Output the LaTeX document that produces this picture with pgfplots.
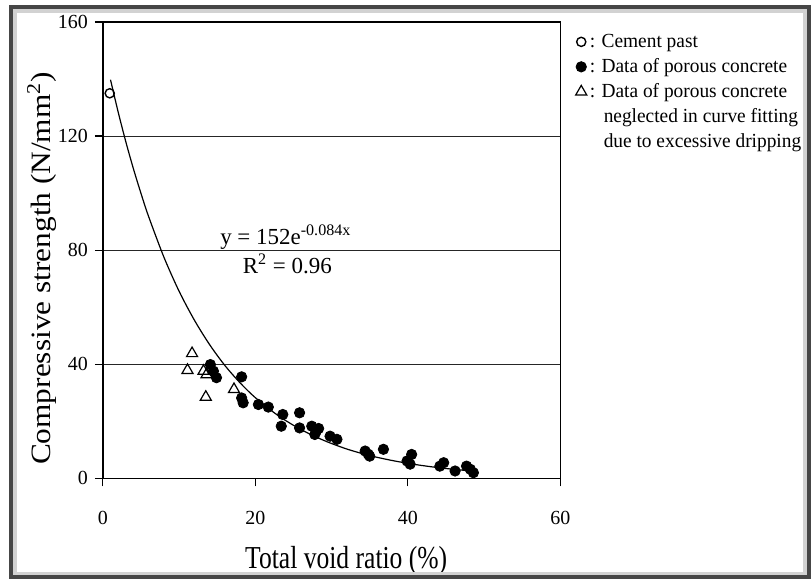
\documentclass[border=0pt]{standalone}
\usepackage{pgfplots}
\pgfplotsset{compat=1.18}
\usepackage{fontspec}
\setmainfont{Liberation Serif}
\newfontfamily\xlabfont[FakeStretch=0.8]{Liberation Serif}
\newfontfamily\ylabfont[FakeStretch=1.12]{Liberation Serif}
\newfontfamily\legfont[FakeStretch=0.97]{Liberation Serif}
\begin{document}
\begin{tikzpicture}
\begin{axis}[
  scale only axis, width=229pt, height=228.5pt,
  xmin=0, xmax=60, ymin=0, ymax=160,
  xtick={0,20,40,60}, ytick={0,40,80,120,160},
  ymajorgrids, grid style={black!85, line width=0.5pt},
  axis line style={line width=0.8pt},
  tick pos=left, tick align=outside, major tick length=4pt,
  tick style={black, line width=0.6pt},
  /pgf/number format/assume math mode=true,
  ticklabel style={font=\fontsize{10}{12}\selectfont},
  xticklabel style={yshift=-9pt},
  xlabel={\xlabfont\fontsize{16}{18}\selectfont Total void ratio (\%)},
  ylabel={\ylabfont\fontsize{14}{16}\selectfont Compressive strength (N/mm\textsuperscript{2})},
  xlabel style={at={(axis description cs:0.532,-0.1816)}, anchor=center},
  ylabel style={at={(axis description cs:-0.1332,0.46)}, anchor=center},
  legend style={at={(1.0197,0.989)}, anchor=north west, draw=none, fill=none,
    font=\legfont\fontsize{10}{12}\selectfont, row sep=2pt,
    nodes={inner sep=0pt, text height=8pt, text depth=2.5pt},
    /tikz/every odd column/.append style={column sep=1.5pt}},
  legend cell align=left,
  legend image code/.code={\draw[#1] plot coordinates {(0pt,0pt)};},
]
\addplot[black, line width=0.6pt, smooth, forget plot] coordinates {
(1,139.76) (2,128.5) (3,118.1) (4,108.6) (5,99.9) (6,91.8) (8,77.6) (10,65.6)
(12,55.5) (14,46.9) (16,39.6) (18,33.5) (20,28.3) (23,22.0) (26,17.1) (29,13.3)
(32,10.3) (35,8.0) (38,6.25) (41,4.86) (44,3.77) (47,2.93) (49,2.48)};
\addplot[only marks, mark=o, mark size=2.3pt, black, mark options={line width=0.7pt}] coordinates {(0.9,135)};
\addlegendentry{: Cement past}
\addplot[only marks, mark=*, mark size=2.6pt, black] coordinates {
(14.1,39.9) (14.5,37.6) (14.9,35.3) (18.2,35.6) (18.2,28.2) (18.4,26.5)
(20.4,25.9) (21.7,25.0) (23.6,22.4) (23.4,18.3) (25.8,23.0) (25.8,17.7)
(27.4,18.3) (28.0,16.6) (27.8,15.4) (28.3,17.5) (29.8,14.8) (30.7,13.7)
(34.4,9.6) (35.0,7.8) (34.8,8.5) (36.8,10.2) (39.9,6.1) (40.5,8.4) (40.3,5.0)
(44.2,4.3) (44.7,5.5) (46.2,2.6) (47.7,4.3) (48.2,3.2) (48.6,2.0)};
\addlegendentry{: Data of porous concrete}
\addplot[only marks, mark=triangle, mark size=3.2pt, black, mark options={line width=0.6pt}] coordinates {
(11.7,43.8) (11.1,37.9) (13.2,37.6) (13.6,36.4) (13.5,28.5) (17.2,31.2)};
\addlegendentry{: Data of porous concrete}
\addlegendimage{empty legend}
\addlegendentry{\hspace*{7pt}neglected in curve fitting}
\addlegendimage{empty legend}
\addlegendentry{\hspace*{7pt}due to excessive dripping}
\node[anchor=base, font=\fontsize{11.5}{13}\selectfont] at (axis cs:24,82) {y = 152e\textsuperscript{-0.084x}};
\node[anchor=base, font=\fontsize{11.5}{13}\selectfont] at (axis cs:24.2,72) {R\textsuperscript{2} = 0.96};
\end{axis}
\pgfresetboundingbox
\draw[line width=1.6pt, gray!35] (-44pt,-47.5pt) rectangle (351.5pt,234pt);
\draw[line width=2pt, gray!55!black] (-46pt,-49.5pt) rectangle (353.5pt,236pt);
\useasboundingbox (-51.5pt,-51pt) rectangle (354pt,239.5pt);
\end{tikzpicture}
\end{document}
